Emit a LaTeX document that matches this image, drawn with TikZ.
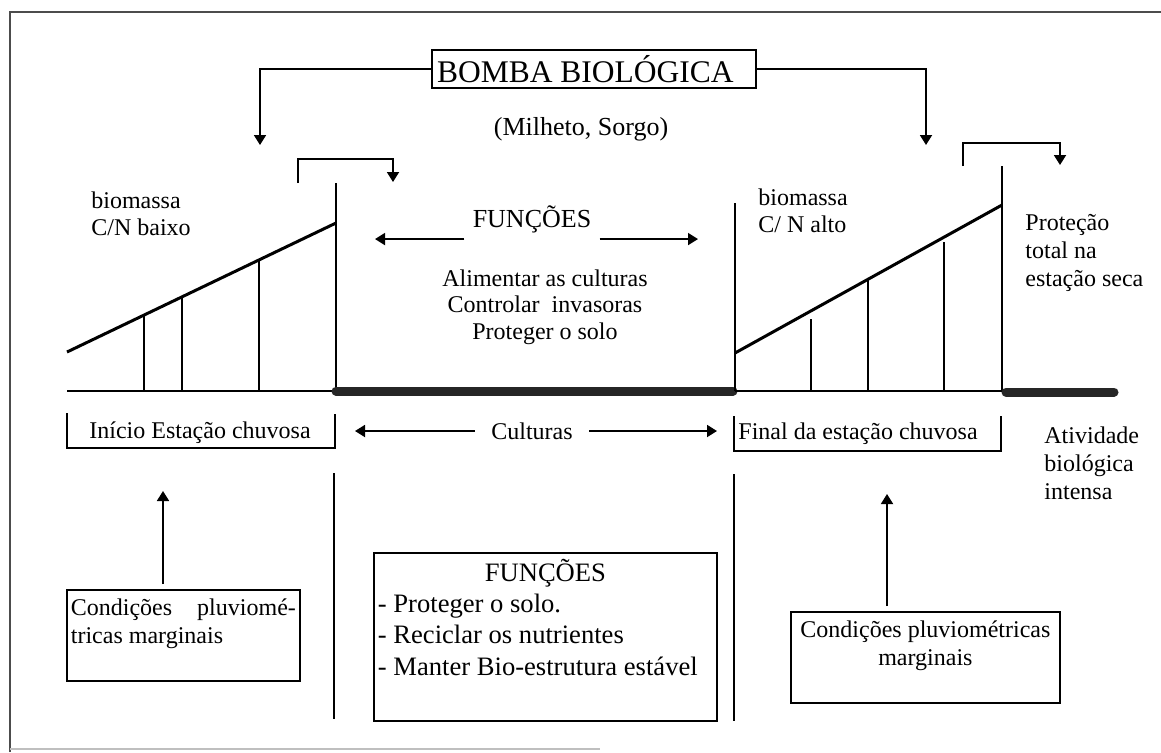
\documentclass[tikz,border=0pt]{standalone}
\usepackage{fontspec}
\setmainfont{Liberation Serif}
\usetikzlibrary{arrows.meta}

\begin{document}
\begin{tikzpicture}[x=0.5pt,y=-0.5pt,
    linha/.style={line width=0.9pt},
    seta/.style={linha,-{Triangle[length=5pt,width=6pt]}},
    rampa/.style={line width=1.5pt},
    barra/.style={line width=4.5pt,line cap=round,draw=black!85},
    texto/.style={font=\fontsize{12}{13.5}\selectfont,inner sep=0pt},
    caixa/.style={draw,line width=0.9pt,inner xsep=2pt,inner ysep=4.5pt,align=flush left,font=\fontsize{12}{14}\selectfont}]
  \useasboundingbox (0,0) rectangle (1161,752);
  \draw[line width=0.8pt,black!70] (10,752) -- (10,12) -- (1161,12);
  \draw[line width=0.6pt,black!25] (10,749) -- (600,749);

  \node[draw,line width=1pt,inner xsep=2.5pt,inner ysep=0pt,text width=157pt,align=flush left,minimum height=19pt,font=\fontsize{15.75}{18}\selectfont] (bomba) at (594,69) {BOMBA BIOLÓGICA};
  \node[texto,font=\fontsize{13}{15}\selectfont] (milheto) at (581,129) {(Milheto, Sorgo)};
  \coordinate (bombaesq) at (260,145);
  \coordinate (bombadir) at (926,145);
  \draw[seta] (bomba.west) -| (bombaesq);
  \draw[seta] (bomba.east) -| (bombadir);

  % inicio da estacao
  \draw[seta] (298,183) -- (298,159) -- (393,159) -- (393,182);
  \draw[linha] (67,391) -- (336,391);
  \draw[rampa] (67,352) -- (336,223);
  \foreach \x/\y in {144/315,182/297,259/260}
    \draw[linha] (\x,391) -- (\x,\y);
  \draw[linha] (336,183) -- (336,391);
  \draw[barra] (336,391) -- (733,391);
  \node[texto,align=flush left,anchor=west] (bioesq) at (91,214) {biomassa\\C/N baixo};

  % final da estacao
  \draw[seta] (963,166) -- (963,143) -- (1060,143) -- (1060,165);
  \draw[linha] (735,391) -- (1002,391);
  \draw[rampa] (735,353) -- (1002,205);
  \foreach \x/\y in {811/319,868/280,944/242}
    \draw[linha] (\x,391) -- (\x,\y);
  \draw[linha] (735,203) -- (735,391);
  \draw[linha] (1002,166) -- (1002,391);
  \draw[barra] (1006,392) -- (1114,392);
  \node[texto,align=flush left,anchor=west] (biodir) at (758,211) {biomassa\\C/ N alto};
  \node[texto,align=flush left,anchor=west,font=\fontsize{12}{14}\selectfont] (protecao) at (1025,253) {Proteção\\total na\\estação seca};

  \node[texto,font=\fontsize{13}{15}\selectfont,inner xsep=4pt,inner ysep=3pt] (funcoes) at (532,219) {FUNÇÕES};
  \coordinate (fesq) at (375,239);
  \coordinate (fdir) at (698,239);
  \draw[seta] (funcoes.south west) -- (fesq |- funcoes.south west);
  \draw[seta] (funcoes.south east) -- (fdir |- funcoes.south east);
  \node[texto,align=flush center,font=\fontsize{12}{13.25}\selectfont] (alimentar) at (545,307) {Alimentar as culturas\\Controlar~ invasoras\\Proteger o solo};

  \node[texto] (inicio) at (200,433) {Início Estação chuvosa};
  \draw[linha] (67,413) |- (335,448) -- (335,414);
  \node[texto,anchor=west] (final) at (738,434) {Final da estação chuvosa};
  \draw[linha] (734,416) |- (1001,451) -- (1001,416);
  \node[texto,inner xsep=8pt] (culturas) at (532,431) {Culturas};
  \coordinate (cesq) at (355,431);
  \coordinate (cdir) at (717,431);
  \draw[seta] (culturas.west) -- (cesq);
  \draw[seta] (culturas.east) -- (cdir);
  \node[texto,align=flush left,anchor=west,font=\fontsize{12}{14}\selectfont] (atividade) at (1044,463) {Atividade\\biológica\\intensa};

  \draw[linha] (334,473) -- (334,719);
  \draw[linha] (734,474) -- (734,721);

  \node[caixa,anchor=north west,text width=112.5pt] (condesq) at (66,589) {Condições\hfill pluviomé-\\tricas marginais\\\mbox{}};
  \node[caixa,anchor=north west,align=flush center,text width=130pt,inner xsep=2.25pt] (conddir) at (790,611) {Condições pluviométricas\\marginais\\\mbox{}};
  \coordinate (setaesq) at (163,491);
  \coordinate (setadir) at (887,494);
  \draw[seta,shorten <=2.5pt] (condesq.north -| setaesq) -- (setaesq);
  \draw[seta,shorten <=2.5pt] (conddir.north -| setadir) -- (setadir);

  \node[draw,line width=0.9pt,anchor=north west,text width=167.5pt,inner xsep=2pt,inner ysep=3pt,align=flush left,font=\fontsize{13.3}{15.7}\selectfont] (funcoesb) at (373,552) {\centering FUNÇÕES\par\raggedright - Proteger o solo.\\- Reciclar os nutrientes\\- Manter Bio-estrutura estável\\[4pt]\mbox{}};
\end{tikzpicture}
\end{document}
